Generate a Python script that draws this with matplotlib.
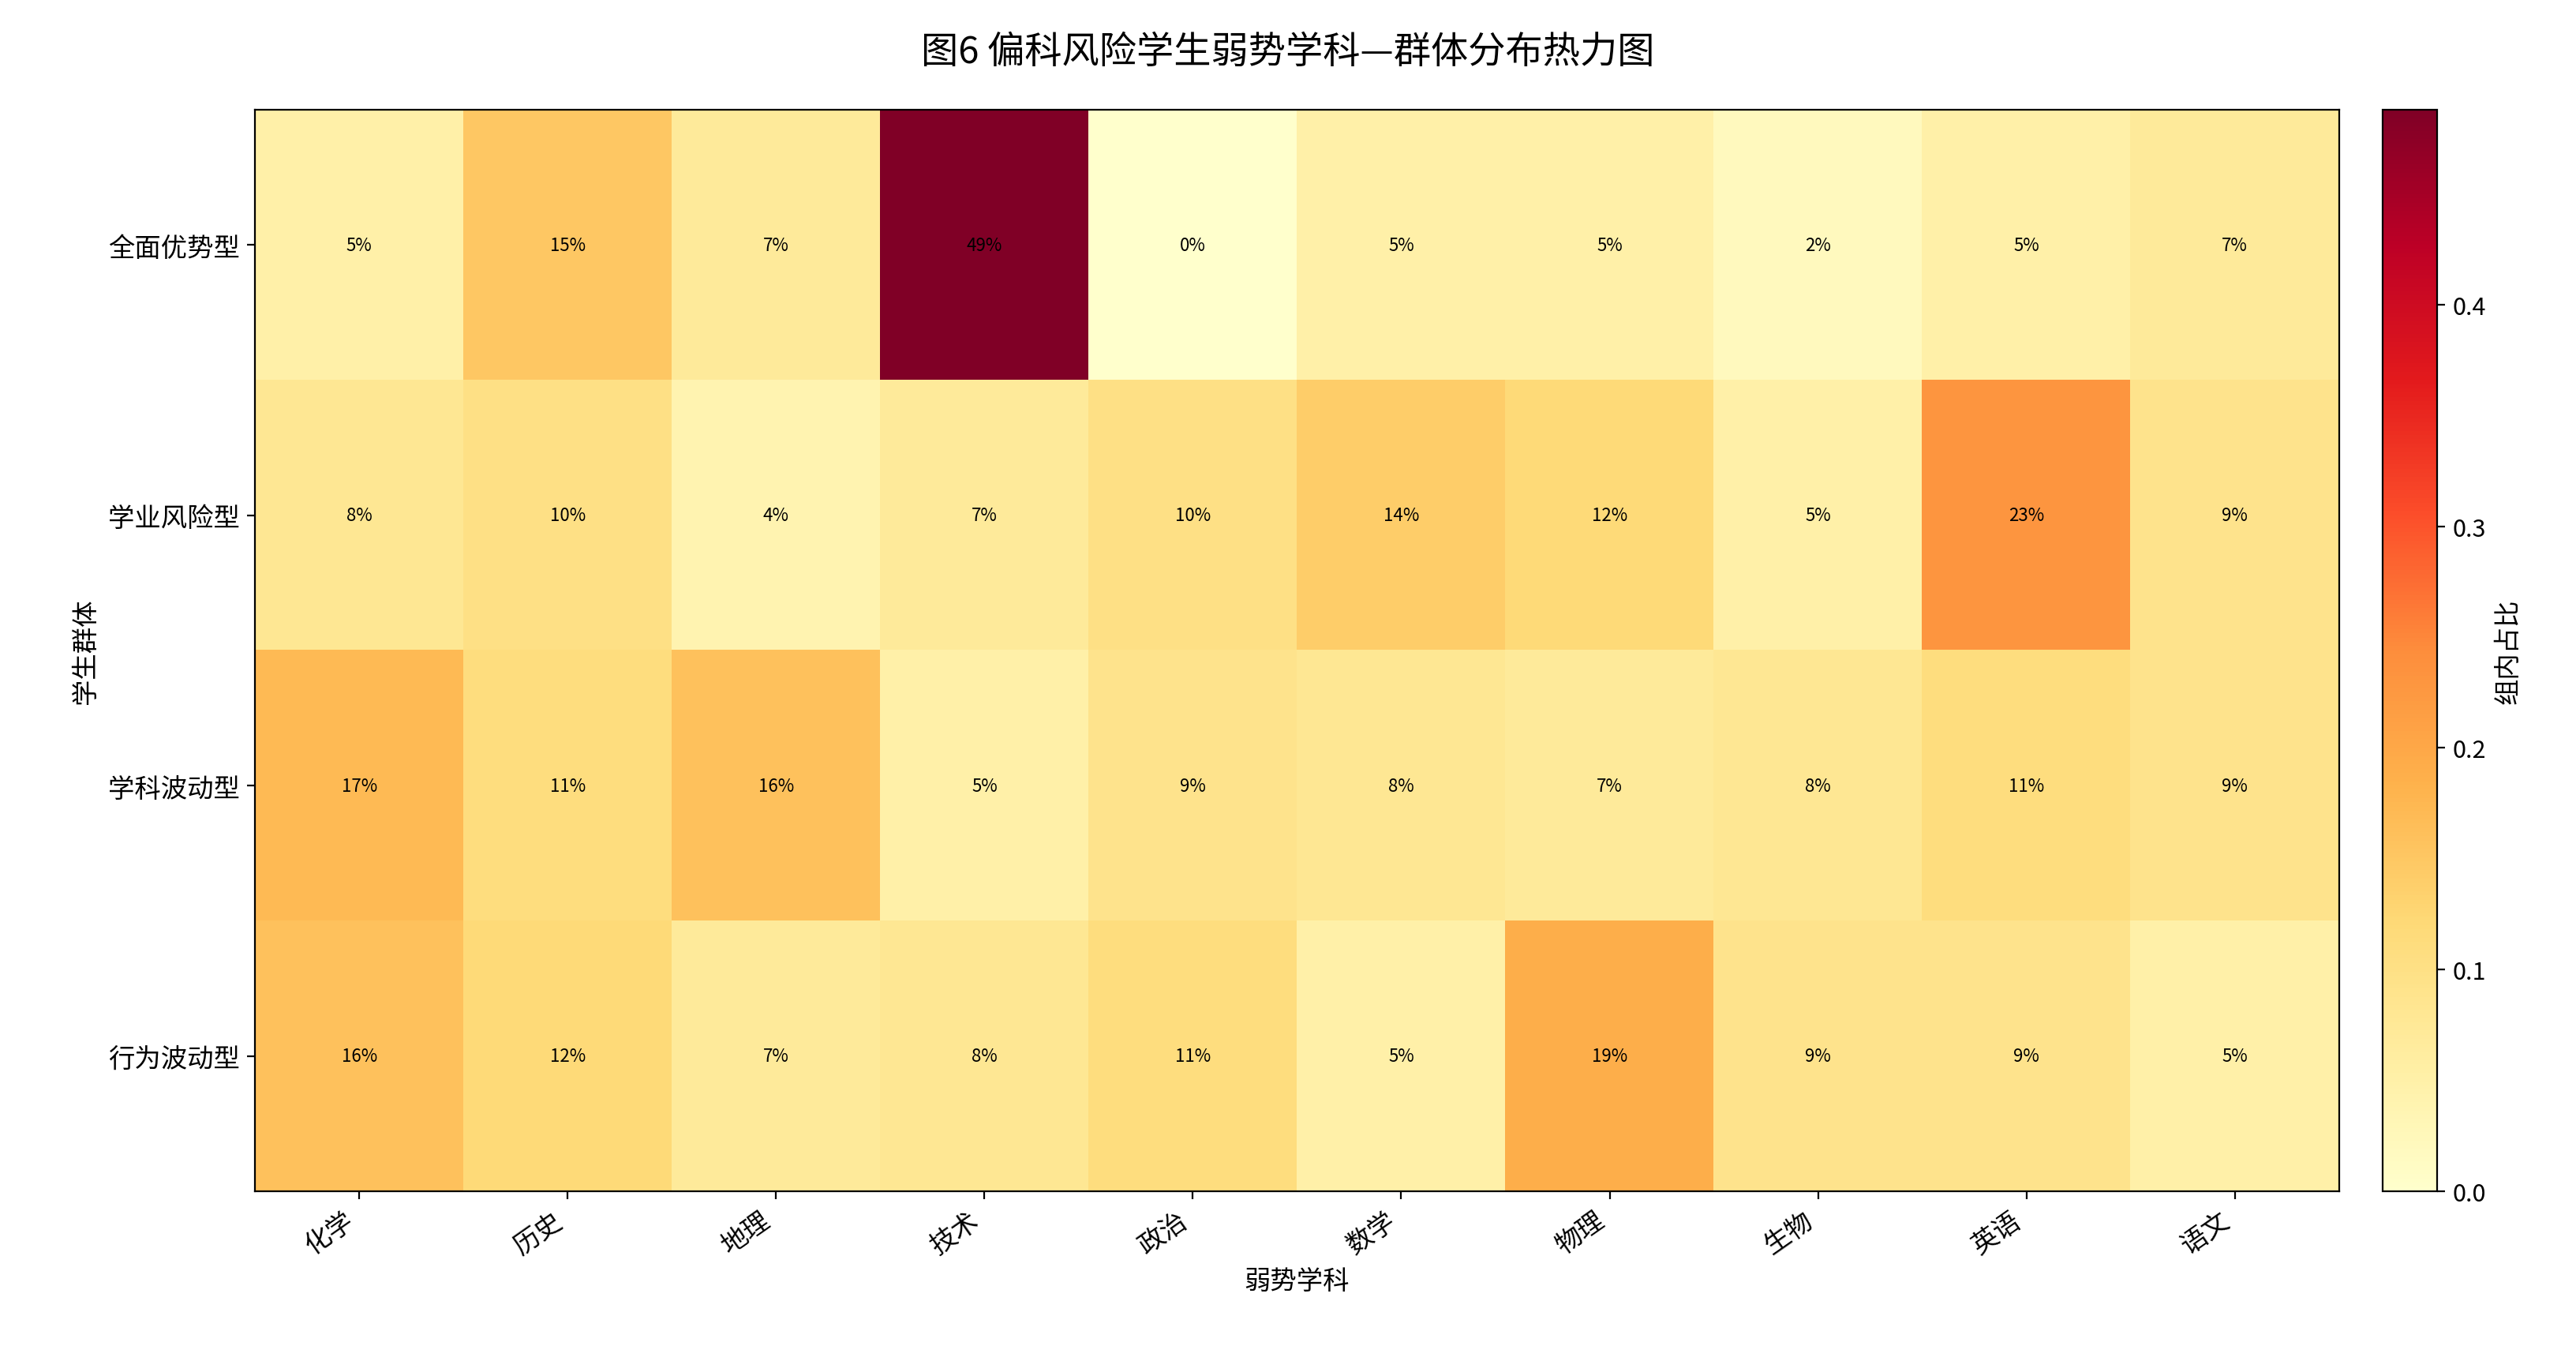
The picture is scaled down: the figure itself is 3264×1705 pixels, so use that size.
import matplotlib
matplotlib.use('Agg')
import matplotlib.pyplot as plt
import numpy as np

plt.rcParams['font.family'] = ['Noto Sans CJK SC', 'DejaVu Sans']
plt.rcParams['axes.unicode_minus'] = False

subjects = ['化学', '历史', '地理', '技术', '政治', '数学', '物理', '生物', '英语', '语文']
groups = ['全面优势型', '学业风险型', '学科波动型', '行为波动型']
全面优势型 = [0.05, 0.15, 0.07, 0.488, 0.0, 0.05, 0.05, 0.02, 0.05, 0.07]
学业风险型 = [0.08, 0.10, 0.04, 0.07, 0.10, 0.14, 0.12, 0.05, 0.23, 0.09]
学科波动型 = [0.17, 0.11, 0.16, 0.05, 0.09, 0.08, 0.07, 0.08, 0.11, 0.09]
行为波动型 = [0.16, 0.12, 0.07, 0.08, 0.11, 0.05, 0.19, 0.09, 0.09, 0.05]
data = np.array([全面优势型, 学业风险型, 学科波动型, 行为波动型])

fig = plt.figure(figsize=(16.32, 8.53), dpi=200)
ax = fig.add_axes([0.099, 0.115, 0.809, 0.803])
cax = fig.add_axes([0.925, 0.115, 0.021, 0.803])

im = ax.imshow(data, cmap='YlOrRd', aspect='auto', vmin=0, vmax=data.max())
for i in range(data.shape[0]):
    for j in range(data.shape[1]):
        ax.text(j, i, f'{data[i, j]:.0%}', ha='center', va='center', fontsize=8)

ax.set_xticks(range(len(subjects)))
ax.set_xticklabels(subjects, rotation=35, ha='right', fontsize=12)
ax.set_yticks(range(len(groups)))
ax.set_yticklabels(groups, fontsize=12)
ax.set_xlabel('弱势学科', fontsize=12)
ax.set_ylabel('学生群体', fontsize=12)
fig.suptitle('图6 偏科风险学生弱势学科—群体分布热力图', fontsize=17, y=0.975)

cb = fig.colorbar(im, cax=cax)
cb.set_label('组内占比', fontsize=12)
cb.ax.tick_params(labelsize=11)

fig.savefig('out.png', dpi=200)
